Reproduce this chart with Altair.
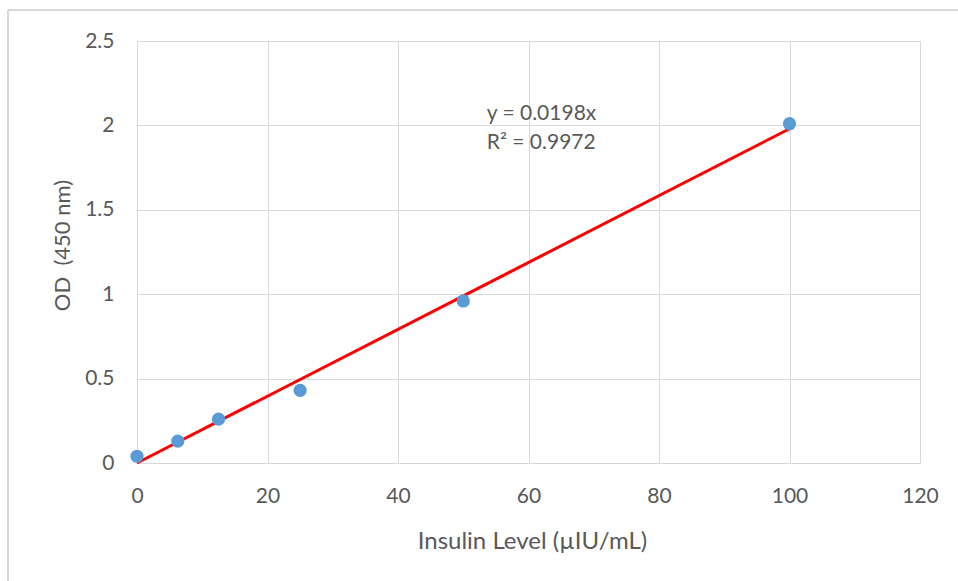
import altair as alt
import pandas as pd

insulin = [0, 6.25, 12.5, 25, 50, 100]
od = [0.04, 0.13, 0.26, 0.43, 0.96, 2.01]
fit_x = [0, 100]
fit_y = [0, 1.98]
eq_lines = ["y = 0.0198x", "R² = 0.9972"]
eq_x = [53.6, 53.6]
eq_y = [2.067, 1.896]
x_ticks = [0, 20, 40, 60, 80, 100, 120]
y_ticks = [0, 0.5, 1, 1.5, 2, 2.5]

pts = pd.DataFrame({"x": insulin, "y": od})
fit = pd.DataFrame({"x": fit_x, "y": fit_y})
ann = pd.DataFrame({"x": eq_x, "y": eq_y, "t": eq_lines})

FONT = "Lato"
TXT = "#595959"
GRID = "#d9d9d9"

xs = alt.Scale(domain=[0, 120], nice=False, zero=False)
ys = alt.Scale(domain=[0, 2.5], nice=False)

xax = alt.Axis(values=x_ticks, title="Insulin Level (µIU/mL)", format="~g",
               grid=True, gridColor=GRID, domain=False, ticks=False, labelFlush=False,
               labelPadding=22, labelFontSize=21, titleFontSize=24,
               titleX=395, titleY=78, titleBaseline="middle", titleAlign="center",
               labelColor=TXT, titleColor=TXT, labelFont=FONT, titleFont=FONT,
               titleFontWeight="normal")
yax = alt.Axis(values=y_ticks, title="OD\u00a0 (450 nm)", format="~g",
               grid=True, gridColor=GRID, domain=False, ticks=False, labelFlush=False,
               labelPadding=23, labelFontSize=21, titleFontSize=22,
               titleX=-75, titleY=204, titleAngle=270, titleBaseline="middle",
               titleAlign="center",
               labelColor=TXT, titleColor=TXT, labelFont=FONT, titleFont=FONT,
               titleFontWeight="normal")

points = alt.Chart(pts).mark_circle(size=175, color="#5b9bd5", opacity=1).encode(
    x=alt.X("x:Q", scale=xs, axis=xax),
    y=alt.Y("y:Q", scale=ys, axis=yax),
)

line = alt.Chart(fit).mark_line(color="#ff0000", strokeWidth=3).encode(
    x=alt.X("x:Q", scale=xs),
    y=alt.Y("y:Q", scale=ys),
)

text = alt.Chart(ann).mark_text(align="left", baseline="middle", font=FONT,
                                fontSize=21, color=TXT).encode(
    x=alt.X("x:Q", scale=xs),
    y=alt.Y("y:Q", scale=ys),
    text="t:N",
)

frame_top = alt.Chart(pts).mark_rule(color=GRID, strokeWidth=2).encode(
    x=alt.value(-129), x2=alt.value(830), y=alt.value(-31))
frame_left = alt.Chart(pts).mark_rule(color=GRID, strokeWidth=2).encode(
    x=alt.value(-129), y=alt.value(-31), y2=alt.value(545))

chart = alt.layer(frame_top, frame_left, line, points, text).properties(
    width=783, height=422,
    autosize=alt.AutoSizeParams(type="none"),
    padding={"left": 137, "top": 41, "right": 38, "bottom": 118},
    background="white",
).configure_view(stroke=None)

chart.save("out.html", embed_options={"renderer": "svg", "actions": False})
